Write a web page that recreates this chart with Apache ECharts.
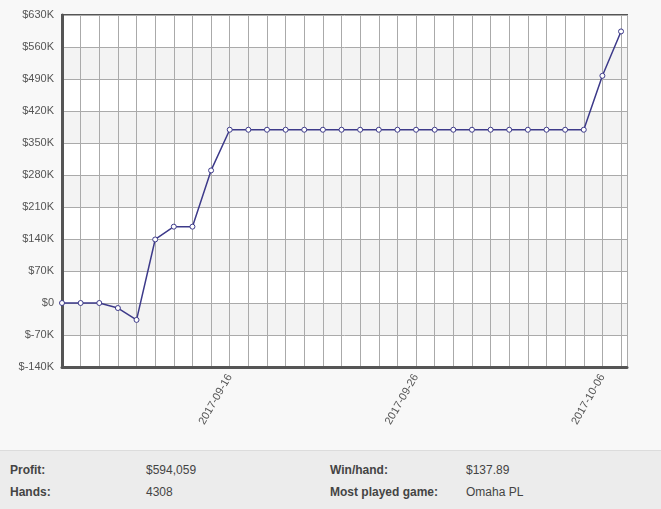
<!DOCTYPE html><html><head><meta charset="utf-8">
<script src="https://cdn.jsdelivr.net/npm/echarts@6/dist/echarts.min.js"></script>
<style>
body{margin:0;width:661px;height:509px;background:#f8f8f8;font-family:Arial,"Liberation Sans",sans-serif;overflow:hidden}
#c{width:661px;height:450px}
#info{position:absolute;left:0;top:450px;width:661px;height:59px;background:#ececec;border-top:1px solid #dcdcdc;font-size:12px;color:#444}
.r{position:absolute}
b{color:#444}
</style></head><body>
<div id="c"></div>
<div id="info">
<div class="r" style="left:10px;top:12px"><b>Profit:</b></div>
<div class="r" style="left:146px;top:12px">$594,059</div>
<div class="r" style="left:10px;top:34px"><b>Hands:</b></div>
<div class="r" style="left:146px;top:34px">4308</div>
<div class="r" style="left:330px;top:12px"><b>Win/hand:</b></div>
<div class="r" style="left:466px;top:12px">$137.89</div>
<div class="r" style="left:330px;top:34px"><b>Most played game:</b></div>
<div class="r" style="left:466px;top:34px">Omaha PL</div>
</div>
<script>
const dates=['2017-09-07','2017-09-08','2017-09-09','2017-09-10','2017-09-11','2017-09-12','2017-09-13','2017-09-14','2017-09-15','2017-09-16','2017-09-17','2017-09-18','2017-09-19','2017-09-20','2017-09-21','2017-09-22','2017-09-23','2017-09-24','2017-09-25','2017-09-26','2017-09-27','2017-09-28','2017-09-29','2017-09-30','2017-10-01','2017-10-02','2017-10-03','2017-10-04','2017-10-05','2017-10-06','2017-10-07'];
const profit=[0,0,0,-11000,-37000,139000,167000,167000,290000,379000,379000,379000,379000,379000,379000,379000,379000,379000,379000,379000,379000,379000,379000,379000,379000,379000,379000,379000,379000,497000,594059];
const labelDates=['2017-09-16','2017-09-26','2017-10-06'];
const data=profit.map((v,i)=>[i,v]);
const ch=echarts.init(document.getElementById('c'));
ch.setOption({
 animation:false,
 grid:{left:62,top:15,right:34,bottom:83,show:true,borderColor:'#555',borderWidth:2,backgroundColor:'#fff'},
 xAxis:{type:'value',min:0,max:30.32,interval:1,
  axisLine:{show:true,onZero:false,lineStyle:{color:'#555',width:3}},axisTick:{show:false},
  splitLine:{lineStyle:{color:'#aaa'}},
  axisLabel:{rotate:60,color:'#555',fontSize:11,showMaxLabel:false,
   formatter:v=>{const d=dates[v];return labelDates.includes(d)?d:'';}}},
 yAxis:{type:'value',min:-140000,max:630000,interval:70000,
  axisLine:{show:true,lineStyle:{color:'#555',width:3}},axisTick:{show:false},
  splitLine:{lineStyle:{color:'#aaa'}},
  splitArea:{show:true,areaStyle:{color:['#fff','#f3f3f3']}},
  axisLabel:{color:'#555',fontSize:11,formatter:v=>v===0?'$0':'$'+(v/1000)+'K'}},
 series:[{type:'line',data:data,symbol:'circle',symbolSize:5,
  lineStyle:{color:'#3d3a8a',width:1.5},
  itemStyle:{color:'#fff',borderColor:'#3d3a8a',borderWidth:1}}]
});
</script></body></html>
